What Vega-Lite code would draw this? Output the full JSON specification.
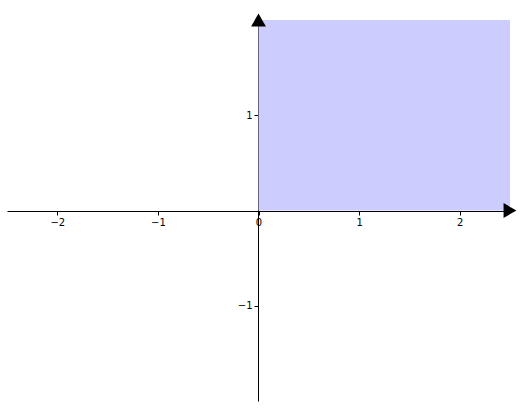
{
  "$schema": "https://vega.github.io/schema/vega-lite/v6.json",
  "width": 503,
  "height": 381,
  "padding": {"left": 7, "top": 20, "right": 20, "bottom": 7},
  "autosize": "none",
  "config": {
    "view": {"stroke": null},
    "axis": {"grid": false, "labelFont": "DejaVu Sans", "labelFontSize": 10, "labelColor": "black", "domainColor": "black", "tickColor": "black", "domainWidth": 1, "tickSize": 4, "title": null, "labelFlush": false}
  },
  "layer": [
    {
      "data": {"values": [{"x0": 0, "x1": 2.5, "y0": 0, "y1": 2}]},
      "mark": {"type": "rect", "color": "#ccccff"},
      "encoding": {
        "x": {"field": "x0", "type": "quantitative", "scale": {"domain": [-2.5, 2.5], "nice": false},
          "axis": {"offset": -190, "values": [-2, -1, 0, 1, 2], "format": "d", "labelExpr": "replace(datum.label, '-', '−')"}},
        "x2": {"field": "x1"},
        "y": {"field": "y0", "type": "quantitative", "scale": {"domain": [-2, 2], "nice": false},
          "axis": {"offset": -251, "values": [-1, 1], "format": "d", "labelExpr": "replace(datum.label, '-', '−')"}},
        "y2": {"field": "y1"}
      }
    },
    {
      "data": {"values": [{"x": 2.5, "y": 0, "shape": "triangle-right"}, {"x": 0, "y": 2, "shape": "triangle-up"}]},
      "mark": {"type": "point", "filled": true, "color": "black", "opacity": 1, "size": 220},
      "encoding": {
        "x": {"field": "x", "type": "quantitative"},
        "y": {"field": "y", "type": "quantitative"},
        "shape": {"field": "shape", "type": "nominal", "scale": null, "legend": null}
      }
    }
  ]
}
